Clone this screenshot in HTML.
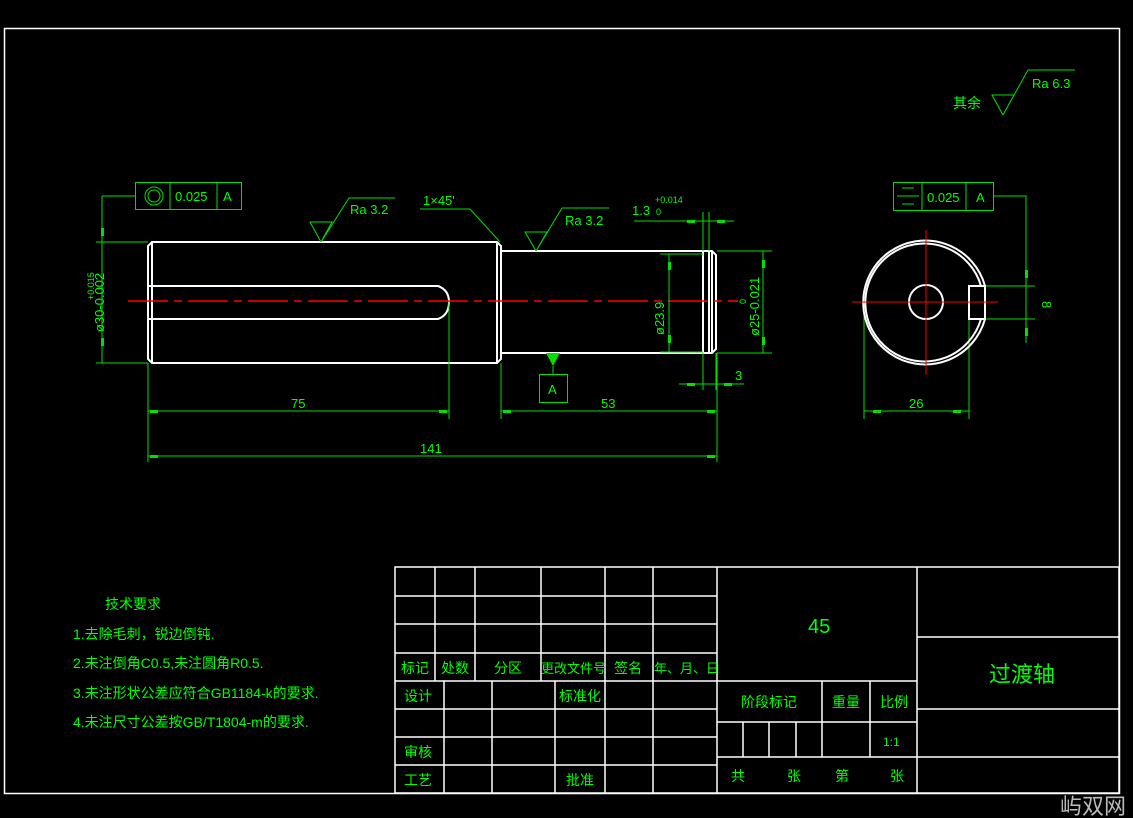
<!DOCTYPE html>
<html><head><meta charset="utf-8"><style>
html,body{margin:0;padding:0;background:#000;}
svg{display:block;}
text{font-family:"Liberation Sans","Noto Sans CJK SC",sans-serif;fill:#00ff00;}
</style></head><body>
<svg width="1133" height="818" viewBox="0 0 1133 818" xmlns="http://www.w3.org/2000/svg">
<rect x="0" y="0" width="1133" height="818" fill="#000"/>
<rect x="4.5" y="28.5" width="1115" height="765" fill="none" stroke="#fff" stroke-width="1.5"/>

<!-- shaft -->
<g fill="none" stroke="#fff" stroke-width="2">
<path d="M152 242 L497 242 L501 246 L501 359 L497 363 L152 363 L148 359 L148 246 Z"/>
<line x1="152" y1="242" x2="152" y2="363"/>
<line x1="497" y1="242" x2="497" y2="363"/>
<path d="M148 286 L438 286 Q449 290 449 302 Q449 315 438 319 L148 319"/>
<path d="M501 251 L712 251 L716 255 L716 349 L712 353 L501 353"/>
<line x1="703" y1="251" x2="703" y2="353"/>
<line x1="709" y1="251" x2="709" y2="353"/>
<line x1="712" y1="251" x2="712" y2="353"/>
</g>
<line x1="128" y1="301" x2="738" y2="301" stroke="#f00" stroke-width="1.5" stroke-dasharray="40,6,8,6"/>

<g stroke="#00e000" stroke-width="1" fill="none">
<line x1="96" y1="242" x2="148" y2="242"/><line x1="96" y1="363" x2="148" y2="363"/>
<line x1="102" y1="196" x2="102" y2="363"/>
<polyline points="135,196 102,196"/>
<rect x="135.5" y="182.5" width="106" height="27"/>
<line x1="170" y1="182" x2="170" y2="209"/><line x1="217" y1="182" x2="217" y2="209"/>
<circle cx="154" cy="196" r="9"/><circle cx="154" cy="196" r="6"/>
<line x1="148" y1="363" x2="148" y2="462"/>
<line x1="449" y1="302" x2="449" y2="419"/>
<line x1="501" y1="363" x2="501" y2="419"/>
<line x1="717" y1="353" x2="717" y2="462"/>
<line x1="148" y1="411" x2="449" y2="411"/>
<line x1="501" y1="411" x2="717" y2="411"/>
<line x1="148" y1="456" x2="717" y2="456"/>
<!-- Ra 3.2 -->
<polyline points="321,242 310,222 332,222 321,242 349,198 395,198"/>
<polyline points="536,251 525,232 547,232 536,251 562,208 609,208"/>
<polyline points="420,209 470,209 500,242"/>
<line x1="553" y1="366" x2="553" y2="374"/>
<rect x="539.5" y="374.5" width="28" height="28"/>
<line x1="703" y1="212" x2="703" y2="251"/><line x1="709" y1="212" x2="709" y2="251"/>
<line x1="634" y1="221" x2="734" y2="221"/>
<line x1="703" y1="353" x2="703" y2="390"/><line x1="716" y1="353" x2="716" y2="390"/>
<line x1="679" y1="384" x2="744" y2="384"/>
<line x1="660" y1="254" x2="703" y2="254"/><line x1="660" y1="352" x2="703" y2="352"/>
<line x1="669" y1="254" x2="669" y2="352"/>
<line x1="717" y1="251" x2="772" y2="251"/><line x1="717" y1="353" x2="772" y2="353"/>
<line x1="763" y1="251" x2="763" y2="353"/>
<line x1="864" y1="302" x2="864" y2="419"/><line x1="969" y1="319" x2="969" y2="419"/>
<line x1="864" y1="411" x2="969" y2="411"/>
<rect x="893.5" y="182.5" width="100" height="28"/>
<line x1="922" y1="182" x2="922" y2="210"/><line x1="966" y1="182" x2="966" y2="210"/>
<line x1="902" y1="188" x2="914" y2="188"/><line x1="897" y1="196" x2="919" y2="196"/><line x1="902" y1="204" x2="914" y2="204"/>
<polyline points="993,196 1026,196 1026,343"/>
<line x1="985" y1="286" x2="1035" y2="286"/><line x1="985" y1="319" x2="1035" y2="319"/>
<polyline points="1003,115 992,95 1014,95 1003,115 1028,70 1075,70"/>
</g>
<g fill="#00e000">
<rect x="101" y="228" width="3" height="8"/><rect x="101" y="338" width="3" height="8"/>
<rect x="150" y="410" width="8" height="3"/><rect x="439" y="410" width="8" height="3"/>
<rect x="503" y="410" width="8" height="3"/><rect x="707" y="410" width="8" height="3"/>
<rect x="150" y="455" width="8" height="3"/><rect x="707" y="455" width="8" height="3"/>
<rect x="687" y="220" width="8" height="3"/><rect x="717" y="220" width="8" height="3"/>
<rect x="687" y="383" width="8" height="3"/><rect x="724" y="383" width="8" height="3"/>
<rect x="668" y="262" width="3" height="8"/><rect x="668" y="335" width="3" height="8"/>
<rect x="762" y="260" width="3" height="8"/><rect x="762" y="337" width="3" height="8"/>
<rect x="873" y="410" width="8" height="3"/><rect x="953" y="410" width="8" height="3"/>
<rect x="1025" y="270" width="3" height="8"/><rect x="1025" y="328" width="3" height="8"/>
<polygon points="546,353 560,353 553,366"/>
</g>

<g fill="none" stroke="#fff" stroke-width="2">
<path d="M985 286 A62 62 0 1 0 985 319"/>
<path d="M981 286 A59 59 0 1 0 981 319"/>
<circle cx="926" cy="302" r="17"/>
<rect x="969" y="286" width="16" height="33"/>
</g>
<g stroke="#f00" stroke-width="1"><line x1="852" y1="302" x2="998" y2="302"/><line x1="926" y1="230" x2="926" y2="375"/></g>

<g font-size="13">
<text x="175" y="201">0.025</text><text x="223" y="201">A</text>
<text x="927" y="202">0.025</text><text x="976" y="202">A</text>
<text x="350" y="214">Ra 3.2</text>
<text x="565" y="225">Ra 3.2</text>
<text x="1032" y="88">Ra 6.3</text>
<text x="423" y="205">1×45'</text>
<text x="632" y="215">1.3</text><text x="655" y="203" font-size="9">+0.014</text><text x="656" y="215" font-size="9">0</text>
<text x="548" y="394">A</text>
<text x="291" y="408">75</text><text x="601" y="408">53</text><text x="420" y="453">141</text>
<text x="735" y="380">3</text><text x="909" y="408">26</text>
<text x="953" y="108" font-size="14">其余</text>
<text transform="translate(104,332) rotate(-90)">ø30-0.002</text>
<text transform="translate(94,300) rotate(-90)" font-size="9">+0.015</text>
<text transform="translate(664,335) rotate(-90)">ø23.9</text>
<text transform="translate(759,336) rotate(-90)">ø25-0.021</text>
<text transform="translate(746,304) rotate(-90)" font-size="9">0</text>
<text transform="translate(1042,301) rotate(90)">8</text>
</g>

<g font-size="14">
<text x="105" y="609">技术要求</text>
<text x="73" y="639">1.去除毛刺，锐边倒钝.</text>
<text x="73" y="668">2.未注倒角C0.5,未注圆角R0.5.</text>
<text x="73" y="698">3.未注形状公差应符合GB1184-k的要求.</text>
<text x="73" y="727">4.未注尺寸公差按GB/T1804-m的要求.</text>
</g>

<g stroke="#fff" stroke-width="1.5" fill="none">
<rect x="395" y="567" width="724" height="226"/>
<line x1="395" y1="596" x2="717" y2="596"/><line x1="395" y1="624" x2="717" y2="624"/>
<line x1="395" y1="653" x2="717" y2="653"/><line x1="395" y1="681" x2="717" y2="681"/>
<line x1="395" y1="709" x2="717" y2="709"/><line x1="395" y1="737" x2="717" y2="737"/><line x1="395" y1="765" x2="717" y2="765"/>
<line x1="435" y1="567" x2="435" y2="681"/><line x1="475" y1="567" x2="475" y2="681"/>
<line x1="541" y1="567" x2="541" y2="681"/><line x1="605" y1="567" x2="605" y2="681"/><line x1="653" y1="567" x2="653" y2="681"/>
<line x1="444" y1="681" x2="444" y2="793"/><line x1="492" y1="681" x2="492" y2="793"/>
<line x1="555" y1="681" x2="555" y2="793"/><line x1="605" y1="681" x2="605" y2="793"/><line x1="653" y1="681" x2="653" y2="793"/>
<line x1="717" y1="567" x2="717" y2="793"/><line x1="917" y1="567" x2="917" y2="793"/>
<line x1="717" y1="681" x2="917" y2="681"/><line x1="717" y1="722" x2="917" y2="722"/><line x1="717" y1="757" x2="917" y2="757"/>
<line x1="822" y1="681" x2="822" y2="757"/><line x1="870" y1="681" x2="870" y2="757"/>
<line x1="743" y1="722" x2="743" y2="757"/><line x1="769" y1="722" x2="769" y2="757"/><line x1="796" y1="722" x2="796" y2="757"/>
<line x1="917" y1="637" x2="1119" y2="637"/><line x1="917" y1="709" x2="1119" y2="709"/><line x1="917" y1="757" x2="1119" y2="757"/>
</g>
<g font-size="14">
<text x="401" y="673">标记</text><text x="441" y="673">处数</text><text x="494" y="673">分区</text>
<text x="541" y="673" font-size="13">更改文件号</text><text x="614" y="673">签名</text><text x="654" y="673" font-size="13">年、月、日</text>
<text x="404" y="701">设计</text><text x="559" y="701">标准化</text>
<text x="404" y="757">审核</text><text x="404" y="785">工艺</text><text x="566" y="785">批准</text>
<text x="741" y="707">阶段标记</text><text x="832" y="707">重量</text><text x="880" y="707">比例</text>
<text x="883" y="746" font-size="12">1:1</text>
<text x="731" y="781">共</text><text x="787" y="781">张</text><text x="835" y="781">第</text><text x="890" y="781">张</text>
<text x="808" y="633" font-size="20">45</text>
<text x="989" y="682" font-size="22">过渡轴</text>
</g>
<text x="1060" y="814" font-size="22" style="fill:#bbb">屿双网</text>
</svg>
</body></html>
